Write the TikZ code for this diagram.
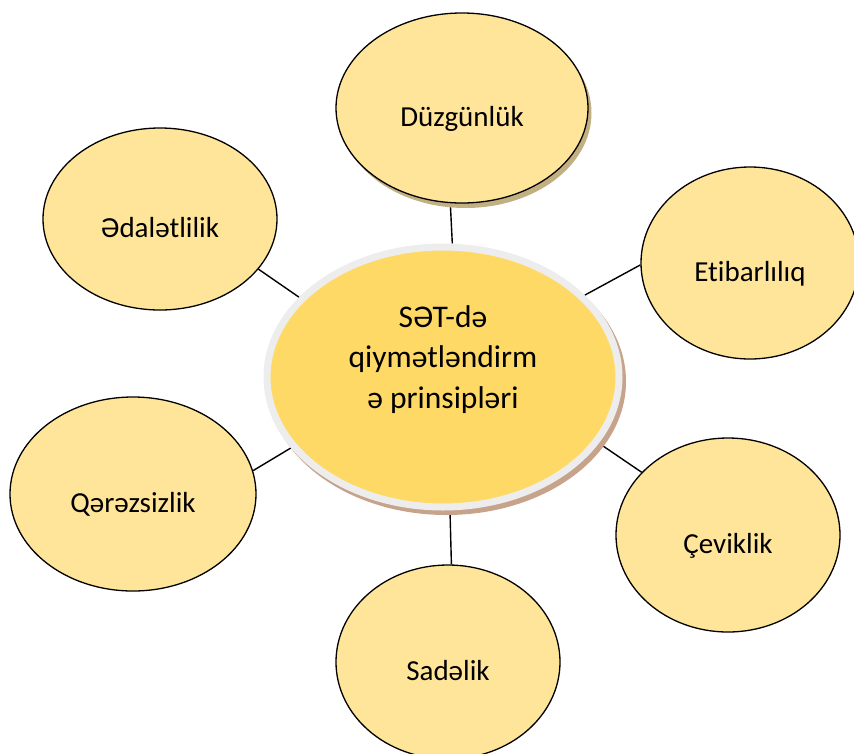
\documentclass[tikz,border=0pt]{standalone}
\usepackage{fontspec}
\setmainfont{Carlito}[Ligatures=NoCommon]
\usetikzlibrary{shapes.geometric,shadows,backgrounds}

\definecolor{petal}{HTML}{FFE599}
\definecolor{hub}{HTML}{FFD966}
\definecolor{rim}{HTML}{EDEDED}
\definecolor{hubshade}{HTML}{C6A38A}
\definecolor{petalshade}{HTML}{C2B083}

\begin{document}
\begin{tikzpicture}[x=1pt,y=-1pt,
  petalnode/.style={ellipse, draw=black, line width=1.3pt, fill=petal,
    inner sep=0pt, font=\fontsize{29}{34}\selectfont,
    text height=36pt, text depth=0pt},
  hubnode/.style={ellipse, draw=rim, line width=7pt, fill=hub,
    inner sep=0pt, align=center, font=\fontsize{31.5}{40.5}\selectfont,
    general shadow={fill=hubshade, draw=hubshade, line width=7pt,
      shadow xshift=3.5pt, shadow yshift=-4.5pt}},
  link/.style={line width=1.4pt, draw=black}]

\useasboundingbox (0,0) rectangle (854,753);

% central principle
\node[hubnode, minimum width=352pt, minimum height=260pt] (ctr) at (443,377)
  {SƏT-də\\qiymətləndirm\\ə prinsipləri\rule[-40pt]{0pt}{40pt}};

% surrounding principles
\node[petalnode, minimum width=252pt, minimum height=190pt,
  general shadow={fill=petalshade, shadow xshift=3.5pt, shadow yshift=-5pt}]
  (duz) at (462,108) {Düzgünlük};
\node[petalnode, minimum width=234pt, minimum height=182pt] (eda) at (160,219) {Ədalətlilik};
\node[petalnode, minimum width=218pt, minimum height=192pt] (eti) at (750,263) {Etibarlılıq};
\node[petalnode, minimum width=246pt, minimum height=194pt] (qer) at (133,494) {Qərəzsizlik};
\node[petalnode, minimum width=224pt, minimum height=194pt] (cev) at (728,535) {Çeviklik};
\node[petalnode, minimum width=224pt, minimum height=194pt] (sad) at (448,662) {Sadəlik};

% connectors behind the ellipses
\begin{scope}[on background layer]
  \draw[link] (duz.263.4) -- (ctr.86.6);
  \draw[link] (eda.333.4) -- (ctr.151.6);
  \draw[link] (eti.181.6) -- (ctr.30.3);
  \draw[link] (qer.11.9)  -- (ctr.205.5);
  \draw[link] (cev.144.2) -- (ctr.337.8);
  \draw[link] (sad.88.2)  -- (ctr.273.4);
\end{scope}
\end{tikzpicture}
\end{document}
